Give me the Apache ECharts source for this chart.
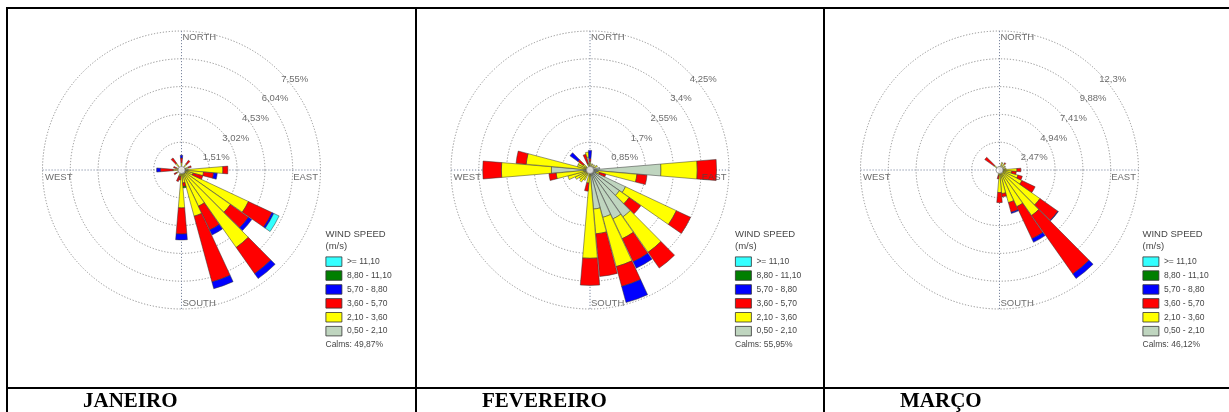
<!DOCTYPE html>
<html>
<head>
<meta charset="utf-8">
<script src="https://cdn.jsdelivr.net/npm/echarts/dist/echarts.min.js"></script>
<style>
  html, body { margin: 0; padding: 0; background: #fff; }
  #chart { width: 1229px; height: 412px; }
</style>
</head>
<body>
<div id="chart"></div>
<script>
// Wind direction sectors (degrees from north, clockwise), 10° bins
const directions = ['0','10','20','30','40','50','60','70','80','90','100','110','120','130','140','150','160','170',
                    '180','190','200','210','220','230','240','250','260','270','280','290','300','310','320','330','340','350'];

// Wind speed classes (m/s), innermost first
const speedClasses = ['0,50 - 2,10', '2,10 - 3,60', '3,60 - 5,70', '5,70 - 8,80', '8,80 - 11,10', '>= 11,10'];

// JANEIRO — frequency (%) per direction and speed class
const janGray   = [0.10,0,0,0,0.05,0,0,0.10,0.20, 0.35,0.30,0.20,0.25,0.25,0.25,0.20,0.20,0.15, 0.15,0.10,0.05,0,0,0,0.05,0,0, 0.10,0,0.05,0,0,0.05,0,0,0];
const janYellow = [0.30,0,0,0,0.35,0,0,0.30,0.05, 1.90,0.90,0.45,3.77,3.00,4.90,1.97,2.40,0.55, 1.91,0.25,0.30,0,0,0,0.25,0,0, 0.35,0,0.25,0,0,0.40,0,0,0];
const janRed    = [0.25,0,0,0,0.25,0,0,0.15,0, 0.27,0.55,0.55,1.41,1.20,1.74,1.43,3.70,0.20, 1.42,0.20,0.30,0,0,0,0.15,0,0, 0.70,0,0.15,0,0,0.35,0,0,0];
const janBlue   = [0.15,0,0,0,0,0,0,0,0, 0,0.20,0,0.11,0.22,0.33,0.30,0.38,0, 0.32,0,0,0,0,0,0,0,0, 0.20,0,0,0,0,0,0,0,0];
const janGreen  = [0,0,0,0,0,0,0,0,0, 0,0,0,0,0,0,0,0,0.08, 0,0,0,0,0,0,0,0,0, 0,0,0,0,0,0,0,0,0];
const janCyan   = [0,0,0,0,0,0,0,0,0, 0,0,0,0.32,0,0,0,0,0, 0,0,0,0,0,0,0,0,0, 0,0,0,0,0,0,0,0,0];

// FEVEREIRO
const febGray   = [0.10,0,0.10,0,0.10,0,0.15,0,0.30, 2.17,0.25,0.20,1.20,1.10,1.75,1.65,1.50,1.20, 0.15,0.10,0,0.05,0.05,0.05,0.10,0.15,0.20, 1.18,0.15,0.10,0.05,0.05,0,0,0.05,0.40];
const febYellow = [0.15,0,0.10,0,0.10,0,0.10,0,0, 1.11,1.19,0.10,1.72,0.36,1.33,0.67,1.56,0.76, 2.55,0.30,0,0.30,0.40,0.35,0.40,0.55,0.84, 1.53,1.81,0.30,0.35,0.20,0,0,0.15,0.15];
const febRed    = [0.10,0,0,0,0,0,0,0,0, 0.59,0.31,0.20,0.48,0.44,0.59,0.78,0.63,1.31, 0.83,0.25,0,0,0,0,0,0,0.22, 0.57,0.31,0,0,0.20,0,0,0.30,0];
const febBlue   = [0.25,0,0,0,0,0,0,0,0, 0,0,0,0,0,0,0.22,0.51,0, 0,0,0,0,0,0,0,0,0, 0,0,0,0,0.30,0,0,0,0];
const febGreen  = [0,0,0,0,0,0,0,0,0, 0,0,0,0,0,0,0,0,0, 0,0,0,0,0,0,0,0,0, 0,0,0,0,0,0,0,0,0];
const febCyan   = [0,0,0,0,0,0,0,0,0, 0,0,0,0,0,0,0,0,0, 0,0,0,0,0,0,0,0,0, 0,0,0,0,0,0,0,0,0];

// MARÇO
const marGray   = [0.10,0,0.30,0,0.20,0,0.20,0,0.40, 0.25,0.20,0.20,0.25,0.30,0.35,0.30,0.20,0.20, 0.20,0.10,0,0,0,0,0,0,0, 0,0,0,0,0.10,0,0,0,0.10];
const marYellow = [0.20,0,0.40,0,0.50,0,0.40,0,0.20, 1.30,0.90,1.50,1.95,4.10,4.60,3.30,2.80,1.90, 1.80,0.40,0,0,0,0,0,0,0, 0,0,0,0,0.50,0,0,0,0.20];
const marRed    = [0,0,0,0,0.10,0,0,0,0, 0.35,0.40,0.40,1.30,1.95,6.35,3.15,0.90,0.30, 0.90,0.30,0,0,0,0,0,0,0, 0,0,0,0,1.00,0,0,0,0];
const marBlue   = [0,0,0,0,0,0,0,0,0, 0,0,0,0,0.05,0.50,0.35,0.10,0, 0,0,0,0,0,0,0,0,0, 0,0,0,0,0,0,0,0,0];
const marGreen  = [0,0,0,0,0,0,0,0,0, 0,0,0,0,0,0,0,0,0, 0,0,0,0,0,0,0,0,0, 0,0,0,0,0,0,0,0,0];
const marCyan   = [0,0,0,0,0,0,0,0,0, 0,0,0,0,0,0,0,0,0, 0,0,0,0,0,0,0,0,0, 0,0,0,0,0,0,0,0,0];

// Ring steps (%) and their tick labels
const ringSteps = [1.51, 0.85, 2.47];
const ringLabelsJan = ['1,51%', '3,02%', '4,53%', '6,04%', '7,55%'];
const ringLabelsFeb = ['0,85%', '1,7%', '2,55%', '3,4%', '4,25%'];
const ringLabelsMar = ['2,47%', '4,94%', '7,41%', '9,88%', '12,3%'];

const compassLabels = ['NORTH', 'EAST', 'SOUTH', 'WEST'];
const monthNames = ['JANEIRO', 'FEVEREIRO', 'MARÇO'];
const calmsLabels = ['Calms: 49,87%', 'Calms: 55,95%', 'Calms: 46,12%'];

// ---- styling / layout ----
const classColors = ['#bfd5bf', '#ffff00', '#ff0000', '#0000ff', '#007f00', '#33ffff'];
const sansFont = '"Liberation Sans", Arial, sans-serif';
const serifFont = '"Liberation Serif", "Times New Roman", serif';
const textGray = '#474747';
const centers = [[181.5, 170], [590, 170], [999.5, 170]];
const roseRadius = 139;
const legendLeft = [325.5, 735, 1142.5];
const monthLeft = [83, 482, 900];

const panels = [
  { values: [janGray, janYellow, janRed, janBlue, janGreen, janCyan], rings: ringLabelsJan },
  { values: [febGray, febYellow, febRed, febBlue, febGreen, febCyan], rings: ringLabelsFeb },
  { values: [marGray, marYellow, marRed, marBlue, marGreen, marCyan], rings: ringLabelsMar }
];

const polar = [], angleAxis = [], radiusAxis = [], series = [], legend = [], title = [];
const hidden = { show: false };

panels.forEach((p, i) => {
  const step = ringSteps[i];
  const maxR = Math.round(step * p.rings.length * 10000) / 10000;
  const barPolar = 2 * i, gridPolar = 2 * i + 1;

  polar.push({ center: centers[i], radius: roseRadius });
  polar.push({ center: centers[i], radius: roseRadius });

  // sector axis for the bars: category k centred on bearing 10k
  angleAxis.push({
    polarIndex: barPolar, type: 'category', data: directions, startAngle: 95, clockwise: true,
    boundaryGap: true, axisLine: hidden, axisTick: hidden, axisLabel: hidden, splitLine: hidden, splitArea: hidden
  });
  radiusAxis.push({
    polarIndex: barPolar, type: 'value', min: 0, max: maxR,
    axisLine: hidden, axisTick: hidden, axisLabel: hidden, splitLine: hidden, splitArea: hidden
  });

  // compass grid: dotted rings and N/E/S/W cross
  angleAxis.push({
    polarIndex: gridPolar, type: 'value', min: 0, max: 360, interval: 90, startAngle: 90, clockwise: true,
    axisLine: hidden, axisTick: hidden, axisLabel: hidden, splitArea: hidden,
    splitLine: { show: true, lineStyle: { color: '#7d88a0', width: 1, type: [1.2, 1.8] } }
  });
  radiusAxis.push({
    polarIndex: gridPolar, type: 'value', min: 0, max: maxR, interval: step,
    axisLine: hidden, axisTick: hidden, axisLabel: hidden, splitArea: hidden,
    splitLine: { show: true, lineStyle: { color: '#8e8e8e', width: 1, type: [1.2, 1.8] } }
  });

  // stacked speed-class sectors
  p.values.forEach((vals, c) => {
    series.push({
      type: 'bar', coordinateSystem: 'polar', polarIndex: barPolar,
      name: speedClasses[c], stack: 'rose' + i,
      data: vals.map(v => (v > 0 ? v : '-')),
      barCategoryGap: '4%',
      itemStyle: { color: classColors[c], borderColor: '#333', borderWidth: 0.5 },
      silent: true, z: 3
    });
  });

  // ring percentage labels along the NE diagonal
  series.push({
    type: 'scatter', coordinateSystem: 'polar', polarIndex: gridPolar,
    symbolSize: 1, itemStyle: { color: 'rgba(0,0,0,0)' }, silent: true, z: 6,
    data: p.rings.map((txt, k) => ({ value: [step * (k + 1), 45], name: txt })),
    label: {
      show: true, formatter: '{b}', position: [2, 3], align: 'left', verticalAlign: 'top',
      fontSize: 9.5, color: textGray, fontFamily: sansFont
    }
  });

  // compass point labels
  const compassPos = [[1.5, 1.5, 'left'], [-2, 2.5, 'right'], [1.5, -10, 'left'], [3, 2.5, 'left']];
  series.push({
    type: 'scatter', coordinateSystem: 'polar', polarIndex: gridPolar,
    symbolSize: 1, itemStyle: { color: 'rgba(0,0,0,0)' }, silent: true, z: 6,
    data: compassLabels.map((txt, k) => ({
      value: [maxR, k * 90], name: txt,
      label: { position: [compassPos[k][0], compassPos[k][1]], align: compassPos[k][2] }
    })),
    label: {
      show: true, formatter: '{b}', verticalAlign: 'top',
      fontSize: 9.5, color: textGray, fontFamily: sansFont
    }
  });

  // calm circle at the centre
  series.push({
    type: 'scatter', coordinateSystem: 'polar', polarIndex: gridPolar,
    symbolSize: 7, silent: true, z: 7,
    itemStyle: { color: '#fff', borderColor: '#8a8a8a', borderWidth: 1 },
    data: [[0, 0]]
  });

  legend.push({
    left: legendLeft[i], top: 256.5, orient: 'vertical', padding: 0,
    data: speedClasses.slice().reverse(), icon: 'rect',
    itemWidth: 16, itemHeight: 9.5, itemGap: 3.6, selectedMode: false,
    itemStyle: { borderColor: '#333', borderWidth: 0.8 },
    textStyle: { fontSize: 8.5, color: textGray, fontFamily: sansFont }
  });

  title.push({
    text: 'WIND SPEED\n(m/s)', left: legendLeft[i], top: 228.5, padding: 0,
    textStyle: { fontSize: 9.5, fontWeight: 'normal', color: textGray, fontFamily: sansFont, lineHeight: 12 }
  });
  title.push({
    text: calmsLabels[i], left: legendLeft[i], top: 340, padding: 0,
    textStyle: { fontSize: 8.5, fontWeight: 'normal', color: textGray, fontFamily: sansFont }
  });
  title.push({
    text: monthNames[i], left: monthLeft[i], top: 391.5, padding: 0,
    textStyle: { fontSize: 21, fontWeight: 'bold', color: '#000', fontFamily: serifFont }
  });
});

// table rules around the three panels
const rule = { stroke: '#000', lineWidth: 2 };
const graphic = [
  { type: 'line', shape: { x1: 6, y1: 8, x2: 1229, y2: 8 }, style: rule, silent: true },
  { type: 'line', shape: { x1: 6, y1: 388, x2: 1229, y2: 388 }, style: rule, silent: true },
  { type: 'line', shape: { x1: 7, y1: 7, x2: 7, y2: 412 }, style: rule, silent: true },
  { type: 'line', shape: { x1: 416, y1: 7, x2: 416, y2: 412 }, style: rule, silent: true },
  { type: 'line', shape: { x1: 824, y1: 7, x2: 824, y2: 412 }, style: rule, silent: true }
];

const chart = echarts.init(document.getElementById('chart'), null, { renderer: 'canvas' });
chart.setOption({
  backgroundColor: '#fff',
  animation: false,
  title, legend, polar, angleAxis, radiusAxis, series, graphic
});
</script>
</body>
</html>
